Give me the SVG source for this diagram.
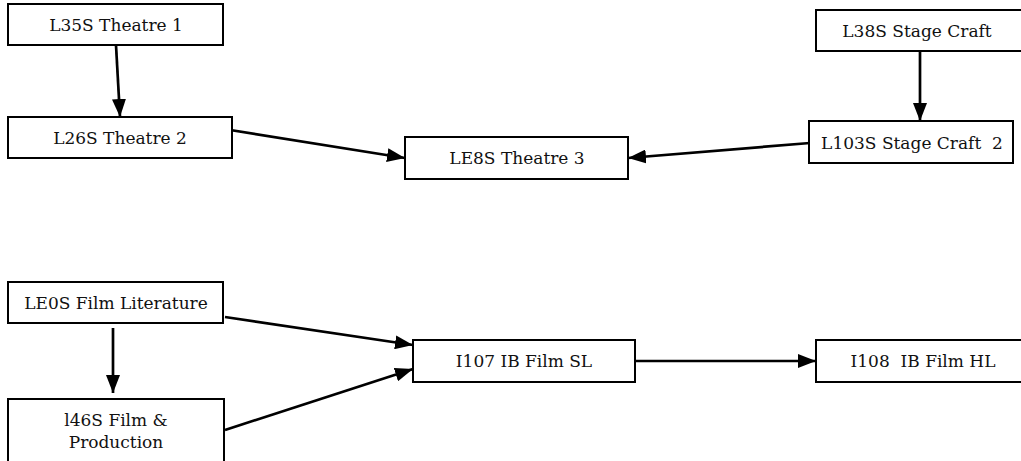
<svg xmlns="http://www.w3.org/2000/svg" width="1021" height="461" viewBox="0 0 1021 461">
<style>
.box{fill:#fff;stroke:#000;stroke-width:2}
.lbl{font-family:'DejaVu Serif',serif;font-size:17px;fill:#111;text-anchor:middle;white-space:pre}
.edge{stroke:#000;stroke-width:2.7;fill:none;marker-end:url(#ah)}
</style>
<defs>
<marker id="ah" markerUnits="userSpaceOnUse" markerWidth="18" markerHeight="14" refX="18" refY="7" orient="auto">
<path d="M0,0 L18,7 L0,14 z" fill="#000"/>
</marker>
</defs>
<rect width="1021" height="461" fill="#fff"/>
<g id="connectors">
<line class="edge" x1="116" y1="45" x2="120" y2="117"/>
<line class="edge" x1="224" y1="129" x2="405" y2="158"/>
<line class="edge" x1="920" y1="51" x2="920" y2="121"/>
<line class="edge" x1="810" y1="143" x2="628" y2="158"/>
<line class="edge" x1="113" y1="328" x2="113" y2="393"/>
<line class="edge" x1="225" y1="317" x2="413" y2="345"/>
<line class="edge" x1="225" y1="430" x2="413" y2="369"/>
<line class="edge" x1="635" y1="361" x2="816" y2="361"/>
</g>
<g id="L35S"><rect class="box" x="8" y="4" width="215" height="41"/><text class="lbl" x="116" y="31">L35S Theatre 1</text></g>
<g id="L26S"><rect class="box" x="8" y="117" width="224" height="41"/><text class="lbl" x="120" y="144">L26S Theatre 2</text></g>
<g id="LE8S"><rect class="box" x="405" y="137" width="223" height="42"/><text class="lbl" x="517" y="164">LE8S Theatre 3</text></g>
<g id="L38S"><rect class="box" x="816" y="10" width="210" height="41"/><text class="lbl" x="917" y="37">L38S Stage Craft</text></g>
<g id="L103S"><rect class="box" x="809" y="121" width="204" height="42"/><text class="lbl" x="912" y="149">L103S Stage Craft  2</text></g>
<g id="LE0S"><rect class="box" x="8" y="282" width="215" height="41"/><text class="lbl" x="116" y="309">LE0S Film Literature</text></g>
<g id="l46S"><rect class="box" x="8" y="399" width="216" height="70"/><text class="lbl" x="116" y="426">l46S Film &amp;</text><text class="lbl" x="116" y="448">Production</text></g>
<g id="I107"><rect class="box" x="413" y="340" width="222" height="42"/><text class="lbl" x="524" y="367">I107 IB Film SL</text></g>
<g id="I108"><rect class="box" x="816" y="340" width="210" height="42"/><text class="lbl" x="923" y="367">I108  IB Film HL</text></g>
</svg>
